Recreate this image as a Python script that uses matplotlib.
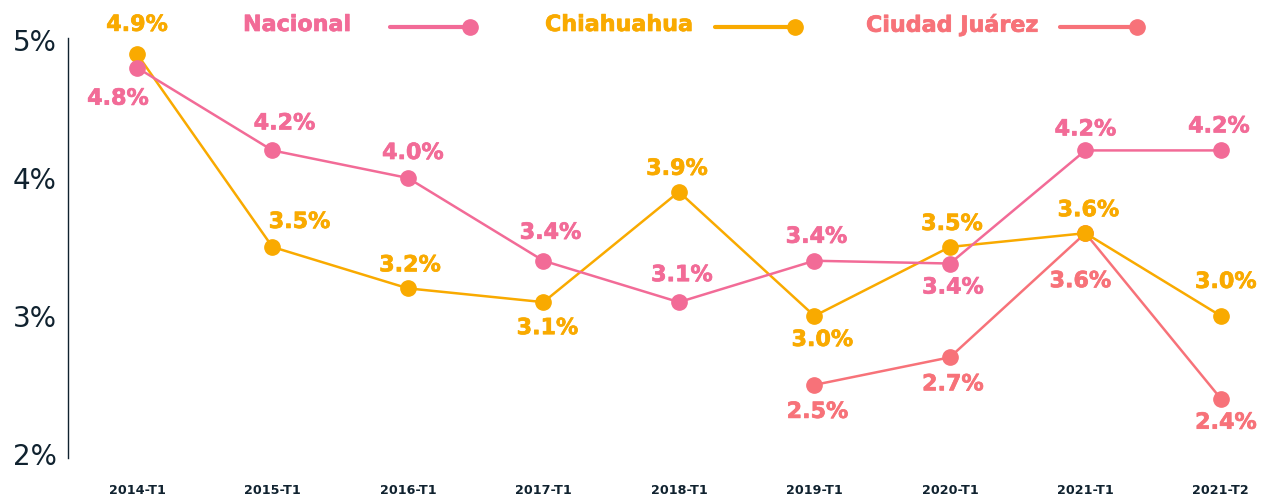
import matplotlib
matplotlib.use("Agg")
import matplotlib.pyplot as plt
import matplotlib.patheffects as pe
from matplotlib.lines import Line2D

# ── Data ──────────────────────────────────────────────────────────────────────
PERIODS = ["2014-T1", "2015-T1", "2016-T1", "2017-T1", "2018-T1",
           "2019-T1", "2020-T1", "2021-T1", "2021-T2"]
NACIONAL = [4.8, 4.2, 4.0, 3.4, 3.1, 3.4, 3.38, 4.2, 4.2]
CHIHUAHUA = [4.9, 3.5, 3.2, 3.1, 3.9, 3.0, 3.5, 3.6, 3.0]
JUAREZ_PERIODS = ["2019-T1", "2020-T1", "2021-T1", "2021-T2"]
JUAREZ = [2.5, 2.7, 3.6, 2.4]
Y_TICKS = [2, 3, 4, 5]

# ── Colour palette ────────────────────────────────────────────────────────────
PINK = "#f26b97"
AMBER = "#f9aa00"
SALMON = "#f77279"
NAVY = "#10222f"

# label offsets in pixels (dx, dy) relative to each point
NAC_OFF = [(-19, -31), (12, 27), (5, 25), (7, 28), (3, 27),
           (2, 24), (3, -24), (0, 21), (-2, 24)]
CHI_OFF = [(0, 29), (27, 25), (2, 23), (4, -26), (-2, 23),
           (8, -24), (2, 23), (3, 23), (5, 34)]
JUA_OFF = [(3, -27), (3, -27), (-5, -48), (5, -24)]

W, H, DPI = 1271, 500, 100
fig = plt.figure(figsize=(W / DPI, H / DPI), dpi=DPI)
ax = fig.add_axes([68 / W, 42 / H, 1 - 68 / W, 420 / H])

xi = {p: i for i, p in enumerate(PERIODS)}
x_all = [xi[p] for p in PERIODS]
x_jua = [xi[p] for p in JUAREZ_PERIODS]

LW, MS = 1.8, 11
ax.plot(x_jua, JUAREZ, color=SALMON, lw=LW, marker="o", ms=MS, zorder=3, clip_on=False)
ax.plot(x_all, CHIHUAHUA, color=AMBER, lw=LW, marker="o", ms=MS, zorder=4, clip_on=False)
ax.plot(x_all, NACIONAL, color=PINK, lw=LW, marker="o", ms=MS, zorder=5, clip_on=False)


def _labels(xs, ys, offs, color):
    for x, y, (dx, dy) in zip(xs, ys, offs):
        ax.annotate(f"{y:.1f}%", (x, y), textcoords="offset points",
                    xytext=(dx * 0.72, dy * 0.72), ha="center", va="center",
                    fontsize=16, fontweight="bold", color=color,
                    annotation_clip=False, zorder=6,
                    path_effects=[pe.withStroke(linewidth=0.5, foreground=color)])


_labels(x_all, NACIONAL, NAC_OFF, PINK)
_labels(x_all, CHIHUAHUA, CHI_OFF, AMBER)
_labels(x_jua, JUAREZ, JUA_OFF, SALMON)

ax.set_xlim(-0.509, 8.37)
ax.set_ylim(1.97, 5.015)
ax.set_yticks(Y_TICKS)
ax.set_yticklabels([f"{v}%" for v in Y_TICKS], fontsize=20, color=NAVY)
ax.set_xticks(x_all)
ax.set_xticklabels(PERIODS, fontsize=9.2, fontweight="bold", color=NAVY)
ax.tick_params(axis="y", length=0, pad=8)
ax.tick_params(axis="x", length=0, pad=19)
for side in ["top", "right", "bottom"]:
    ax.spines[side].set_visible(False)
ax.spines["left"].set_color(NAVY)
ax.spines["left"].set_linewidth(1.0)

# ── Legend (text then line ending in a dot) ───────────────────────────────────
legend_items = [("Nacional", PINK, 243, 390, 470),
                ("Chiahuahua", AMBER, 545, 715, 795),
                ("Ciudad Juárez", SALMON, 866, 1060, 1137)]
for name, col, tx, x0, x1 in legend_items:
    fig.text(tx / W, 1 - 25 / H, name, fontsize=16, fontweight="bold",
             color=col, ha="left", va="center",
             path_effects=[pe.withStroke(linewidth=0.5, foreground=col)])
    fig.add_artist(Line2D([x0 / W, x1 / W], [1 - 27 / H, 1 - 27 / H],
                          transform=fig.transFigure, color=col, lw=3,
                          solid_capstyle="round"))
    fig.add_artist(Line2D([x1 / W], [1 - 27 / H], transform=fig.transFigure,
                          color=col, marker="o", ms=11))

fig.savefig("out.png", dpi=DPI)
